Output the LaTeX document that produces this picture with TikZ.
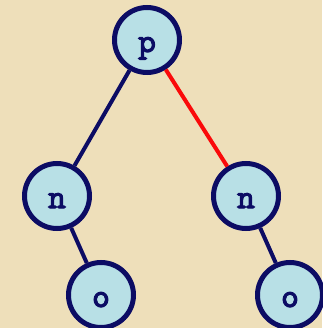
\documentclass[tikz,border=0pt]{standalone}
\usepackage{fontspec}
\newfontfamily\treefont{lmmono10-regular.otf}[FakeBold=3]
\definecolor{bgbeige}{RGB}{238,223,186}
\definecolor{nodeblue}{RGB}{184,224,230}
\definecolor{navy}{RGB}{12,12,100}
\definecolor{edgered}{RGB}{250,10,10}
\tikzset{
  treenode/.style={circle, draw=navy, fill=nodeblue, line width=5pt, minimum size=65pt, inner sep=0pt,
    text height=24pt, text depth=0pt,
    font=\treefont\fontsize{34}{34}\selectfont, text=navy},
  treeedge/.style={draw=navy, line width=4pt},
  rededge/.style={draw=edgered, line width=4pt}
}
\begin{document}
\begin{tikzpicture}[x=1pt,y=-1pt]
\fill[bgbeige] (0,0) rectangle (322,328);
\useasboundingbox (0,0) rectangle (322,328);
\node[treenode] (p) at (147,40) {p};
\node[treenode] (nl) at (57,196) {n};
\node[treenode] (nr) at (246,196) {n};
\node[treenode] (ol) at (101,295) {o};
\node[treenode] (or) at (290,295) {o};
\draw[treeedge] (p) -- (nl);
\draw[rededge] (p) -- (nr);
\draw[treeedge] (nl) -- (ol);
\draw[treeedge] (nr) -- (or);
\end{tikzpicture}
\end{document}
